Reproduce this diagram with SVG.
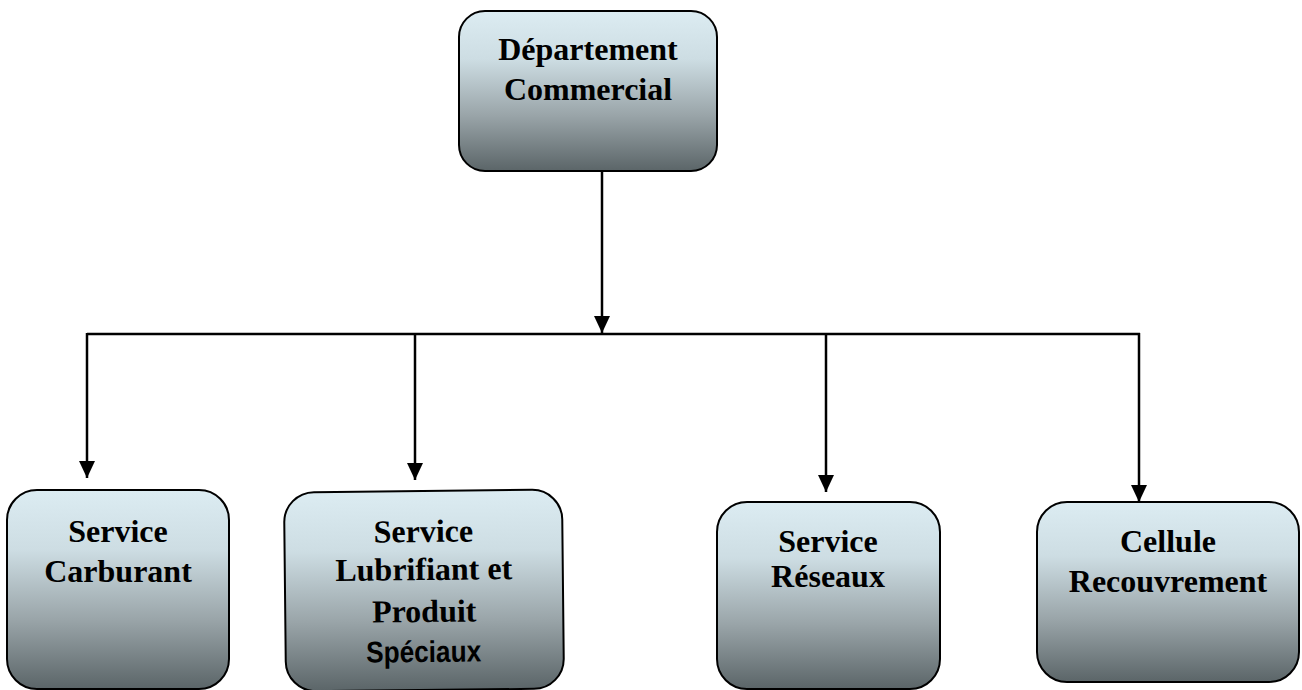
<svg xmlns="http://www.w3.org/2000/svg" width="1302" height="690" viewBox="0 0 1302 690">
  <defs>
    <linearGradient id="boxFill" x1="0" y1="0" x2="0" y2="1">
      <stop offset="0" stop-color="#dcecf2"/>
      <stop offset="0.3" stop-color="#cddde3"/>
      <stop offset="0.65" stop-color="#9aa5a9"/>
      <stop offset="1" stop-color="#5b6568"/>
    </linearGradient>
    <!-- solid triangular head, pointing along the line direction -->
    <marker id="arrow" viewBox="0 0 17 16" refX="17" refY="8" markerWidth="17" markerHeight="16" markerUnits="userSpaceOnUse" orient="auto">
      <path d="M0,0 L17,8 L0,16 Z" fill="#000"/>
    </marker>
  </defs>
  <style>
    .box { fill: url(#boxFill); stroke: #000; stroke-width: 2; }
    .lbl { font-family: "Liberation Serif", "Times New Roman", serif; font-weight: bold; font-size: 32px; fill: #000; text-anchor: middle; }
    .lbl-sans { font-family: "Liberation Sans", Arial, sans-serif; font-weight: bold; font-size: 30px; fill: #000; text-anchor: middle; }
    .wire { fill: none; stroke: #000; stroke-width: 2.5; }
    .arr { fill: none; stroke: #000; stroke-width: 2.5; marker-end: url(#arrow); }
  </style>

  <rect width="1302" height="690" fill="#fff"/>

  <g id="connectors">
    <line class="arr" x1="602" y1="172" x2="602" y2="333"/>
    <polyline class="wire" points="87,334 1140,334"/>
    <line class="arr" x1="87" y1="333" x2="87" y2="478"/>
    <line class="arr" x1="415" y1="333" x2="415" y2="480"/>
    <line class="arr" x1="826" y1="333" x2="826" y2="492"/>
    <line class="arr" x1="1139" y1="333" x2="1139" y2="502"/>
  </g>

  <g id="departement-commercial">
    <rect class="box" x="459" y="11" width="258" height="160" rx="26" ry="26"/>
    <text class="lbl" x="588" y="60">Département</text>
    <text class="lbl" x="588" y="100">Commercial</text>
  </g>

  <g id="service-carburant">
    <rect class="box" x="7" y="490" width="222" height="199" rx="30" ry="30"/>
    <text class="lbl" x="118" y="542">Service</text>
    <text class="lbl" x="118" y="582">Carburant</text>
  </g>

  <g id="service-lubrifiant" transform="rotate(-0.6 424 590)">
    <rect class="box" x="285" y="491" width="278" height="199" rx="30" ry="30"/>
    <text class="lbl" x="424" y="542">Service</text>
    <text class="lbl" x="424" y="580">Lubrifiant et</text>
    <text class="lbl" x="424" y="622">Produit</text>
    <text class="lbl-sans" x="423" y="662" textLength="115" lengthAdjust="spacingAndGlyphs">Spéciaux</text>
  </g>

  <g id="service-reseaux">
    <rect class="box" x="717" y="502" width="223" height="187" rx="30" ry="30"/>
    <text class="lbl" x="828" y="552">Service</text>
    <text class="lbl" x="828" y="587">Réseaux</text>
  </g>

  <g id="cellule-recouvrement">
    <rect class="box" x="1037" y="502" width="262" height="180" rx="30" ry="30"/>
    <text class="lbl" x="1168" y="552">Cellule</text>
    <text class="lbl" x="1168" y="592">Recouvrement</text>
  </g>
</svg>
